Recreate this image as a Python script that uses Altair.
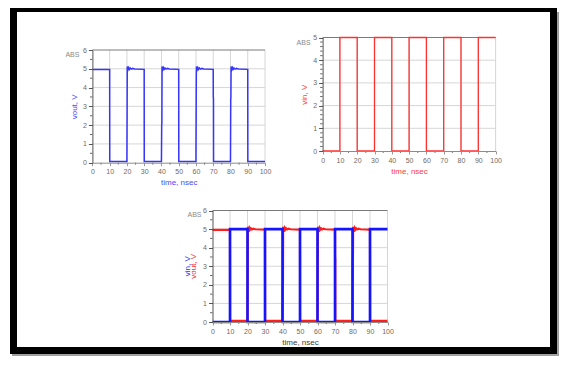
import altair as alt
import pandas as pd

# ---------------- data ----------------
X_TICKS = [0, 10, 20, 30, 40, 50, 60, 70, 80, 90, 100]
X_MINOR = [5, 15, 25, 35, 45, 55, 65, 75, 85, 95]
X_GRID = [10, 20, 30, 40, 50, 60, 70, 80, 90, 100]

VIN_T = [0, 10, 10, 20, 20, 30, 30, 40, 40, 50, 50, 60, 60, 70, 70, 80, 80, 90, 90, 100]
VIN_V = [0, 0, 5, 5, 0, 0, 5, 5, 0, 0, 5, 5, 0, 0, 5, 5, 0, 0, 5, 5]

VOUT_T = [0, 10, 10.05, 20,
          20.2, 20.6, 21.0, 21.4, 21.9, 22.5, 23.3, 24.5, 30, 30.05, 40,
          40.15, 40.25, 40.35, 40.75, 41.15, 41.55, 42.05, 42.65, 43.45, 44.6, 50, 50.05, 60,
          60.2, 60.3, 60.7, 61.1, 61.5, 62.0, 62.6, 63.4, 64.6, 70, 70.05, 70.15, 70.2, 80,
          80.15, 80.25, 80.35, 80.75, 81.15, 81.55, 82.05, 82.65, 83.45, 84.6, 90, 90.05, 100]
VOUT_V = [4.96, 4.96, 0.06, 0.06,
          5.12, 4.95, 5.06, 4.97, 5.04, 4.98, 5.02, 4.99, 4.97, 0.06, 0.06,
          2.0, 2.1, 5.12, 4.95, 5.06, 4.97, 5.04, 4.98, 5.02, 4.99, 4.97, 0.06, 0.06,
          4.7, 5.12, 4.95, 5.06, 4.97, 5.04, 4.98, 5.02, 4.99, 4.97, 3.5, 3.4, 0.06, 0.06,
          3.4, 3.5, 5.12, 4.95, 5.06, 4.97, 5.04, 4.98, 5.02, 4.99, 4.97, 0.06, 0.06]

FONT = "Liberation Sans"
W, H = 551, 348
GRID_C = "#d6d6d6"
LABEL_C = "#74695c"


def series(t, v):
    return pd.DataFrame({"t": t, "v": v, "i": list(range(len(t)))})


def one():
    return pd.DataFrame({"a": [0]})


def panel(xr, yr, ymax, y_minor, traces, ytitle, ycolor, xcolor,
          ytitle_pad, xtitle_pad, abs_dx, abs_dy, extra=None):
    xs = alt.Scale(domain=[0, 100], range=xr, nice=False, zero=False)
    ys = alt.Scale(domain=[0, ymax], range=yr, nice=False, zero=False)
    xaxis = alt.Axis(orient="bottom", offset=yr[0] - H, values=X_TICKS, grid=False,
                     zindex=2,
                     labelFont=FONT, labelFontSize=7, labelColor=LABEL_C, labelPadding=2,
                     tickSize=3, tickColor="#999999", domainColor="#8c8c8c",
                     title="time, nsec", titleFont=FONT, titleFontSize=8,
                     titleFontWeight="normal", titleColor=xcolor, titlePadding=xtitle_pad,
                     labelFlush=False)
    yargs = dict(orient="left", offset=-xr[0], values=list(range(0, ymax + 1)),
                 grid=False, zindex=2, labelFont=FONT, labelFontSize=7, labelColor=LABEL_C,
                 labelPadding=2, tickSize=4, tickColor="#555555", domainColor="#555555")
    if ytitle:
        yaxis = alt.Axis(title=ytitle, titleFont=FONT, titleFontSize=8,
                         titleFontWeight="normal", titleColor=ycolor,
                         titlePadding=ytitle_pad, **yargs)
    else:
        yaxis = alt.Axis(title=None, **yargs)

    def X(field=None, datum=None, axis=None):
        if field is not None:
            return alt.X(field, type="quantitative", scale=xs, axis=axis)
        return alt.X(datum=datum, type="quantitative", scale=xs, axis=None)

    def Y(field=None, datum=None, axis=None):
        if field is not None:
            return alt.Y(field, type="quantitative", scale=ys, axis=axis)
        return alt.Y(datum=datum, type="quantitative", scale=ys, axis=None)

    vgrid = alt.Chart(pd.DataFrame({"g": X_GRID})).mark_rule(
        color=GRID_C, strokeWidth=1).encode(
        x=X("g"), y=Y(datum=0), y2=alt.Y2(datum=ymax))
    hgrid = alt.Chart(pd.DataFrame({"g": list(range(1, ymax))})).mark_rule(
        color=GRID_C, strokeWidth=1).encode(
        y=Y("g"), x=X(datum=0), x2=alt.X2(datum=100))
    top = alt.Chart(one()).mark_rule(color="#7a7a7a", strokeWidth=1).encode(
        y=Y(datum=ymax), x=X(datum=0), x2=alt.X2(datum=100))
    yminor = alt.Chart(pd.DataFrame({"m": y_minor})).mark_rule(
        color="#666666", strokeWidth=1).encode(
        y=Y("m"), x=X(datum=-1.4), x2=alt.X2(datum=0))
    xminor = alt.Chart(pd.DataFrame({"m": X_MINOR})).mark_rule(
        color="#666666", strokeWidth=1).encode(
        x=X("m"), y=Y(datum=0), y2=alt.Y2(datum=-0.1 * ymax / 6))
    absl = alt.Chart(one()).mark_text(
        text="ABS", font=FONT, fontSize=7, color="#8a8a8a", align="right",
        baseline="middle", dx=abs_dx, dy=abs_dy).encode(
        x=X(datum=0), y=Y(datum=ymax))

    layers = [vgrid, hgrid, top, yminor, xminor, absl]
    for k, (df, color, width) in enumerate(traces):
        layers.append(alt.Chart(df).mark_line(color=color, strokeWidth=width,
                                              interpolate="linear").encode(
            x=X("t", axis=xaxis if k == 0 else None),
            y=Y("v", axis=yaxis if k == 0 else None),
            order=alt.Order("i:Q")))
    if extra:
        for txt, color, xd in extra:
            layers.append(alt.Chart(one()).mark_text(
                text=txt, font=FONT, fontSize=8, color=color, angle=270,
                align="center", baseline="middle").encode(
                x=X(datum=xd), y=Y(datum=ymax / 2)))
    return layers


vin = series(VIN_T, VIN_V)
vout = series(VOUT_T, VOUT_V)

minor_half6 = [0.5, 1.5, 2.5, 3.5, 4.5, 5.5]
minor_fifth5 = [0.2, 0.4, 0.6, 0.8, 1.2, 1.4, 1.6, 1.8, 2.2, 2.4, 2.6, 2.8,
                3.2, 3.4, 3.6, 3.8, 4.2, 4.4, 4.6, 4.8]

p1 = panel([84.4, 257.0], [154.7, 42.0], 6, minor_half6,
           [(vout, "#3535ff", 1.5)], "vout, V", "#4a4aff", "#4a4aff",
           4, 4, -13, 5)
p2 = panel([314.6, 487.6], [143.0, 29.5], 5, minor_fifth5,
           [(vin, "#ff3030", 1.3)], "vin, V", "#ff3a3a", "#ff3a3a",
           4, 4, -12, 5)
p3 = panel([204.5, 379.5], [314.0, 202.5], 6, minor_half6,
           [(vout, "#ff1e1e", 2.2), (vin, "#1414ff", 2.6)], None, None, "#3a3a3a",
           4, 4, -11, 4,
           extra=[("vin, V", "#2a2aff", -14.0), ("vout, V", "#ff2a2a", -10.6)])

shadow = alt.Chart(one()).mark_rect(color="#a0a0a0").encode(
    x=alt.value(4), x2=alt.value(551), y=alt.value(4), y2=alt.value(348))
frame = alt.Chart(one()).mark_rect(color="#000000").encode(
    x=alt.value(2), x2=alt.value(549), y=alt.value(0), y2=alt.value(346))
inner = alt.Chart(one()).mark_rect(color="#ffffff").encode(
    x=alt.value(9), x2=alt.value(542), y=alt.value(4), y2=alt.value(339))

chart = alt.layer(shadow, frame, inner, *p1, *p2, *p3).resolve_scale(
    x="independent", y="independent").resolve_axis(
    x="independent", y="independent").properties(
    width=W, height=H, padding=0, background="white",
    autosize=alt.AutoSizeParams(type="none")).configure_view(stroke=None)

chart.save("out.html", embed_options={"renderer": "svg", "actions": False})
